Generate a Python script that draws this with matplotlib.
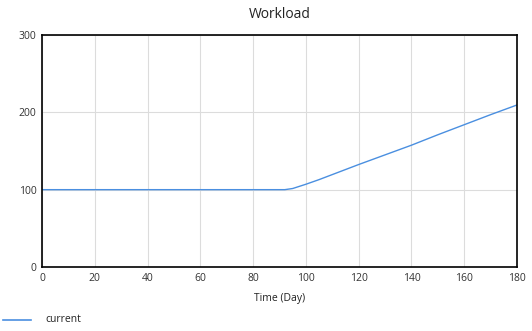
import matplotlib
matplotlib.use("Agg")
import matplotlib.pyplot as plt
from matplotlib.lines import Line2D

plt.rcParams['font.family'] = ['Open Sans', 'DejaVu Sans']

# Workload over simulated time
days = [0, 92, 95, 100, 105, 110, 120, 130, 140, 150, 160, 170, 180]
workload = [100, 100, 101.5, 107, 113, 119.5, 132.5, 145, 157.5, 171, 184, 197, 209.5]

x_ticks = [0, 20, 40, 60, 80, 100, 120, 140, 160, 180]
y_ticks = [0, 100, 200, 300]

line_color = '#4a8fe0'

fig = plt.figure(figsize=(5.32, 3.31), dpi=100)
ax = fig.add_axes([42/532, 1 - 267/331, (517 - 42)/532, (267 - 35)/331])

ax.plot(days, workload, color=line_color, lw=1.0)

ax.set_xlim(0, 180)
ax.set_ylim(0, 300)
ax.set_xticks(x_ticks)
ax.set_yticks(y_ticks)
ax.grid(True, color='#dcdcdc', lw=0.8)
ax.set_axisbelow(True)
ax.tick_params(length=0, labelsize=7.5, labelcolor='#333333', pad=4)
for s in ax.spines.values():
    s.set_color('black')
    s.set_linewidth(1.2)

fig.text(279.5/532, 1 - 14/331, 'Workload', ha='center', va='center', fontsize=10, color='#222222')
fig.text(279.5/532, 1 - 298/331, 'Time (Day)', ha='center', va='center', fontsize=7.5, color='#222222')

# legend entry below the chart
fig.add_artist(Line2D([3/532, 31/532], [1 - 320/331, 1 - 320/331], color=line_color, lw=1.2))
fig.text(45/532, 1 - 320/331, 'current', ha='left', va='center', fontsize=7.5, color='#222222')

fig.savefig('out.png', dpi=100)
